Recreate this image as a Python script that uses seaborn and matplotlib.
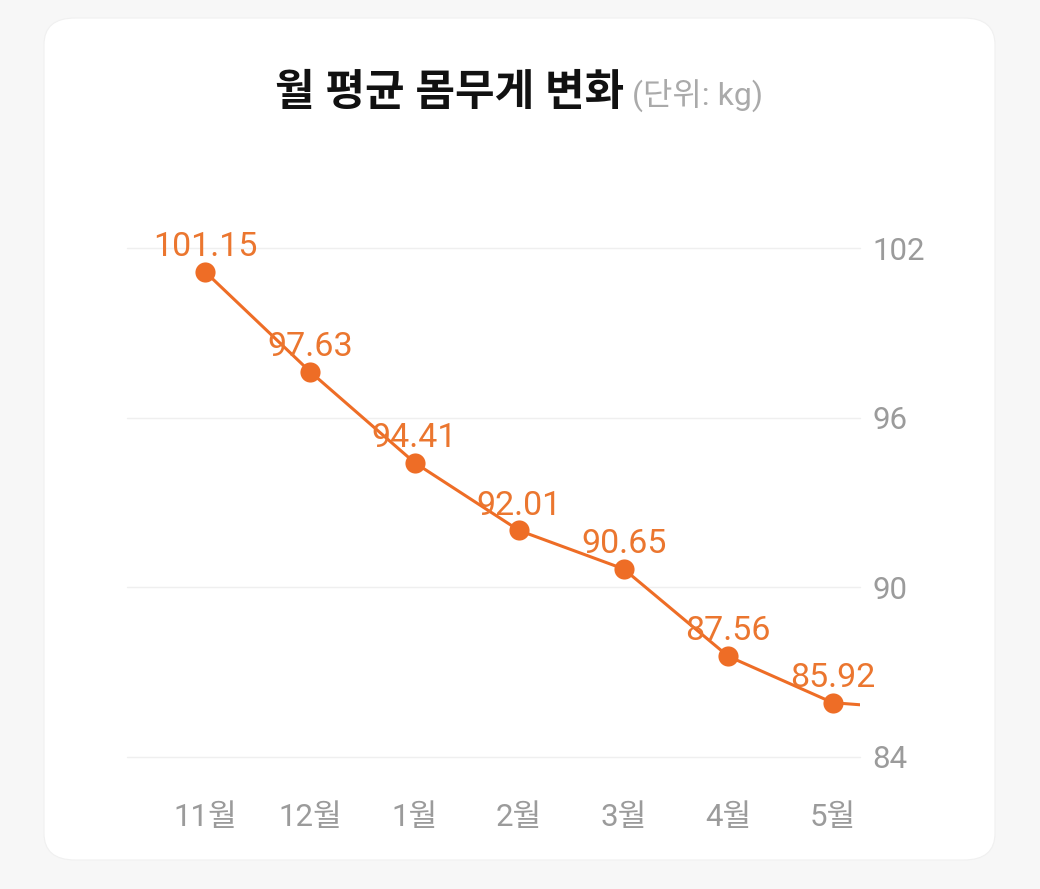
import matplotlib
matplotlib.use("Agg")
import matplotlib.pyplot as plt
import seaborn as sns
import pandas as pd
import numpy as np
from matplotlib.patches import FancyBboxPatch

months = ["11월", "12월", "1월", "2월", "3월", "4월", "5월", "6월"]
weights = [101.15, 97.63, 94.41, 92.01, 90.65, 87.56, 85.92, 85.64]
visible_months = 7
y_ticks = [84, 90, 96, 102]

ORANGE = "#EE6D26"
LABEL_ORANGE = "#EB762F"
GRAY = "#9b9b9b"
FONTS = ["Roboto", "Noto Sans CJK KR", "DejaVu Sans"]

sns.set_theme(style="white")
plt.rcParams["font.family"] = FONTS

W, H = 1040, 889
fig = plt.figure(figsize=(W / 100, H / 100), dpi=100)
fig.patch.set_facecolor("#f7f7f7")

card = FancyBboxPatch((44 / W, 1 - 860 / H), (995 - 44) / W, (860 - 18) / H,
                      boxstyle="round,pad=0,rounding_size=0.03",
                      transform=fig.transFigure, facecolor="white",
                      edgecolor="#f0f0f0", linewidth=0.8, zorder=-5)
fig.patches.append(card)

ax = fig.add_axes([127 / W, 1 - 757 / H, (860 - 127) / W, (757 - 248) / H])
ax.set_facecolor("none")
ax.set_zorder(2)

df = pd.DataFrame({"idx": np.arange(len(weights)), "weight": weights})
sns.lineplot(data=df, x="idx", y="weight", ax=ax, color=ORANGE, linewidth=2.2,
             marker="o", markersize=14.5, markeredgewidth=0, sort=False, zorder=3)

ax.set_xlim(-0.75, visible_months - 1 + 0.26)
ax.set_ylim(84, 102)
ax.set_xticks(range(visible_months))
ax.set_xticklabels(months[:visible_months])
ax.set_yticks(y_ticks)
ax.yaxis.tick_right()
ax.tick_params(axis="y", length=0, pad=9, labelsize=22.5, labelcolor=GRAY)
ax.tick_params(axis="x", length=0, pad=33, labelsize=22.5, labelcolor=GRAY)
ax.set_xlabel("")
ax.set_ylabel("")
for s in ax.spines.values():
    s.set_visible(False)
ax.grid(axis="y", color="#efefef", linewidth=1.0)
ax.grid(axis="x", visible=False)
for gl in ax.get_ygridlines():
    gl.set_clip_on(False)

for i, v in enumerate(weights):
    ax.annotate(f"{v:.2f}", xy=(i, v), xytext=(0, 11.5), textcoords="offset points",
                ha="center", va="baseline", fontsize=24.5, color=LABEL_ORANGE, zorder=4)

# Title in two parts
t1 = fig.text(0, 1 - 105 / H, "월 평균 몸무게 변화", fontsize=31, fontweight="bold",
              color="#111111", ha="left", va="baseline")
t2 = fig.text(0, 1 - 105 / H, " (단위: kg)", fontsize=23, color="#aaaaaa",
              ha="left", va="baseline")
fig.canvas.draw()
r = fig.canvas.get_renderer()
w1 = t1.get_window_extent(r).width
w2 = t2.get_window_extent(r).width
total = w1 + w2
x0 = 519 - total / 2
t1.set_x(x0 / W)
t2.set_x((x0 + w1) / W)

fig.savefig("out.png", dpi=100, facecolor=fig.get_facecolor())
